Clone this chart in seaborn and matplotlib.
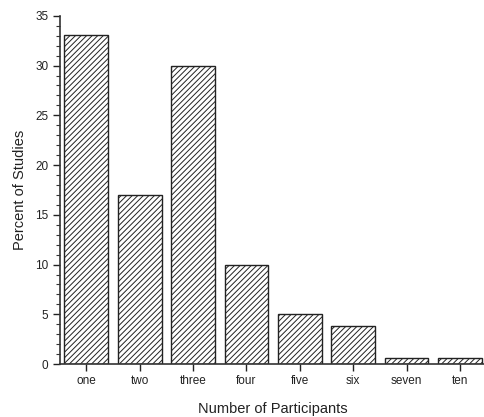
import matplotlib
matplotlib.use("Agg")
import matplotlib.pyplot as plt
import seaborn as sns
import pandas as pd
from matplotlib.ticker import MultipleLocator

categories = ["one", "two", "three", "four", "five", "six", "seven", "ten"]
percent = [33.1, 17.0, 30.0, 10.0, 5.0, 3.8, 0.6, 0.6]

df = pd.DataFrame({"participants": categories, "percent": percent})

sns.set_theme(style="ticks")
plt.rcParams["font.family"] = ["Liberation Sans", "DejaVu Sans"]
plt.rcParams["hatch.linewidth"] = 0.7
plt.rcParams["hatch.color"] = "#333333"

fig = plt.figure(figsize=(4.85, 4.17), dpi=100)
ax = fig.add_axes([0.124, 0.127, 0.876, 0.835])

sns.barplot(data=df, x="participants", y="percent", ax=ax, color="white",
            edgecolor="#222222", linewidth=1.0, width=0.82, saturation=1)
for p in ax.patches:
    p.set_hatch("//////")

ax.set_xlim(-0.49, 7.47)
ax.set_ylim(0, 35)
ax.yaxis.set_major_locator(MultipleLocator(5))
ax.yaxis.set_minor_locator(MultipleLocator(1))
ax.tick_params(axis="y", which="major", length=5, width=1, labelsize=8.5, colors="#222222", direction="out")
ax.tick_params(axis="y", which="minor", length=3, width=0.8, colors="#333333", direction="out")
ax.tick_params(axis="x", which="major", length=5, width=1, labelsize=8.5, colors="#222222", direction="out", pad=3)

sns.despine(ax=ax, top=True, right=True)
for s in ("left", "bottom"):
    ax.spines[s].set_color("#333333")
    ax.spines[s].set_linewidth(1.2)

ax.set_xlabel("Number of Participants", fontsize=10.5, color="#222222", labelpad=11)
ax.set_ylabel("Percent of Studies", fontsize=10.5, color="#222222", labelpad=6)

fig.savefig("out.png", dpi=100)
